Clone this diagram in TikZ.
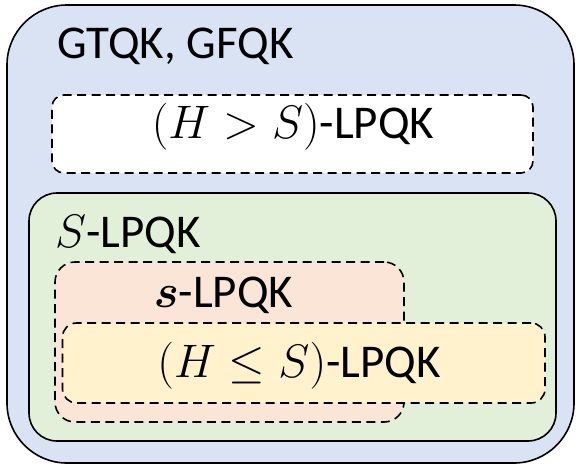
\RequirePackage{fix-cm}
\documentclass[tikz,border=0pt]{standalone}
\usepackage{amsmath}
\usepackage{fontspec}
\setmainfont{Carlito}
\definecolor{setblue}{HTML}{DAE3F3}
\definecolor{setgreen}{HTML}{E2F0D9}
\definecolor{setpink}{HTML}{FBE5D6}
\definecolor{setyellow}{HTML}{FFF2CC}
\begin{document}
\begin{tikzpicture}[x=1pt,y=-1pt,
  region/.style={draw=black, line width=1.6pt, inner sep=0pt},
  subregion/.style={draw=black, line width=1.6pt, dash pattern=on 9pt off 5.5pt, inner sep=0pt},
  lbl/.style={inner sep=0pt, font=\fontsize{47}{54}\selectfont}]
\useasboundingbox (0,0) rectangle (577,466);
% outer set
\node[region, fill=setblue, rounded corners=60pt, minimum width=567pt, minimum height=458pt] (outer) at (290.5,234) {};
\node[lbl, anchor=base west] (outerlbl) at (57,58) {GTQK, GFQK};
% H > S
\node[subregion, fill=white, rounded corners=12pt, minimum width=481pt, minimum height=78pt] (hgt) at (292.5,134) {};
\node[lbl, anchor=base] (hgtlbl) at (293,138) {$(H > S)$-LPQK};
% S-LPQK
\node[region, fill=setgreen, rounded corners=28pt, minimum width=527pt, minimum height=248pt] (slp) at (292.5,317) {};
\node[lbl, anchor=base west] (slplbl) at (55,247) {$S$-LPQK};
% s-LPQK
\node[subregion, fill=setpink, rounded corners=20pt, minimum width=349pt, minimum height=160pt] (small) at (229.5,342) {};
\node[lbl, anchor=base] (smalllbl) at (223.5,307) {$\boldsymbol{s}$-LPQK};
% H <= S
\node[subregion, fill=setyellow, rounded corners=14pt, minimum width=482.5pt, minimum height=80pt] (hle) at (303.75,363) {};
\node[lbl, anchor=base] (hlelbl) at (299,377) {$(H \leq S)$-LPQK};
\end{tikzpicture}
\end{document}
